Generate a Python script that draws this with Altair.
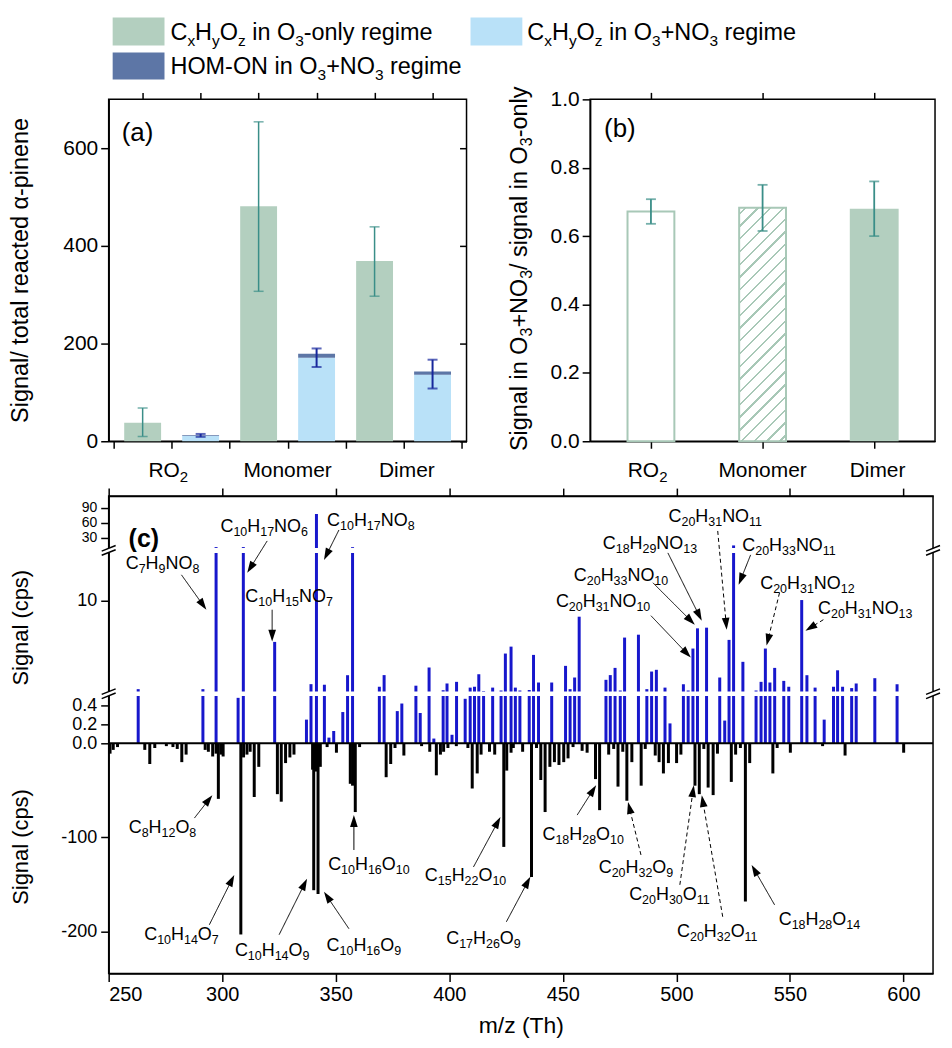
import math
import re

import altair as alt
import pandas as pd

FONT = "Liberation Sans"
GREEN = "#b3cfbf"
GREEN_EDGE = "#a8c8b7"
LBLUE = "#b9e1f8"
HOMON = "#5d76a6"
TEAL = "#3a8e88"
DBLUE = "#17279c"
BLUE = "#1717cc"

# ---------------- panel (a) ----------------
groups = ["RO2", "Monomer", "Dimer"]
o3_only = [38, 481, 369]
o3_only_lo = [10, 307, 297]
o3_only_hi = [68, 654, 439]
no3_cxhyoz = [11, 171, 136]
no3_homon = [1.5, 8, 7]
no3_lo = [9, 152, 108]
no3_hi = [15, 190, 167]

# ---------------- panel (b) ----------------
ratio = [0.672, 0.683, 0.680]
ratio_lo = [0.636, 0.615, 0.600]
ratio_hi = [0.708, 0.750, 0.760]

# ---------------- panel (c) ----------------
hom_on_mz = [263.0, 291.5, 297.3, 307.0, 309.3, 323.1, 337.1, 339.1, 341.5, 345.0,
             347.0, 349.1, 353.1, 355.2, 357.4, 369.2, 371.3, 377.1, 379.1, 385.3,
             387.2, 391.1, 393.2, 397.3, 399.0, 401.2, 403.2, 407.0, 409.2, 411.1,
             413.0, 415.1, 419.1, 422.8, 424.7, 427.2, 429.1, 431.1, 435.2, 437.1,
             439.3, 445.1, 451.2, 453.2, 455.2, 457.2, 469.0, 470.9, 473.0, 475.3,
             477.2, 483.3, 487.0, 489.1, 491.2, 495.0, 497.2, 503.1, 505.2, 507.3,
             509.3, 513.3, 519.1, 521.3, 523.2, 525.2, 529.3, 535.1, 537.3, 539.2,
             541.2, 543.3, 547.3, 549.5, 555.2, 557.5, 561.1, 565.1, 569.2, 571.0,
             573.2, 577.2, 579.2, 587.4, 597.2]
hom_on_signal = [0.84, 0.84, 19, 0.48, 19, 5.75, 0.25, 1.36, 77.5, 1.3,
                 0.06, 0.13, 0.33, 2.29, 18.9, 1.09, 2.3, 0.34, 0.42, 1.2,
                 0.32, 3.09, 0.05, 0.73, 1.43, 0.09, 1.6, 0.47, 1.0, 1.09,
                 2.39, 0.65, 1.0, 0.7, 4.54, 5.26, 1.0, 0.7, 0.75, 4.4,
                 1.53, 1.53, 3.26, 0.84, 2.05, 8.37, 1.81, 2.3, 3.05, 0.7,
                 6.2, 6.5, 0.84, 2.67, 2.85, 1.0, 0.21, 1.35, 0.7, 5.06,
                 7.16, 7.23, 2.05, 0.24, 5.96, 21, 3.68, 0.7, 1.6, 5.06,
                 1.53, 3.05, 1.7, 1.09, 10.1, 2.29, 1.0, 0.25, 1.09, 2.8,
                 1.09, 0.95, 1.43, 1.98, 1.35]
cxhyoz_mz = [250.6, 252.0, 253.9, 265.9, 268.1, 270.3, 275.4, 278.3, 280.2, 282.2,
             284.1, 292.5, 293.9, 295.8, 297.3, 298.3, 299.5, 300.4, 308.2, 309.4,
             310.9, 312.3, 314.1, 316.1, 324.3, 326.0, 327.9, 329.8, 331.6, 339.8,
             340.3, 341.2, 342.2, 343.2, 346.2, 350.3, 356.4, 357.4, 358.6, 360.5,
             372.2, 374.2, 376.1, 380.0, 387.8, 391.4, 394.3, 396.1, 397.5, 399.4,
             403.1, 408.2, 410.1, 412.3, 414.0, 417.7, 420.0, 424.0, 425.3, 427.2,
             428.2, 432.3, 436.2, 438.4, 440.3, 442.2, 444.3, 446.3, 448.3, 450.4,
             452.3, 454.5, 458.5, 460.7, 464.4, 466.2, 470.2, 472.4, 474.3, 476.4,
             478.2, 480.4, 484.5, 486.3, 490.7, 492.4, 494.3, 496.5, 500.1, 502.0,
             508.2, 510.1, 512.1, 514.0, 516.2, 518.1, 524.2, 526.1, 528.2, 530.4,
             532.3, 542.5, 544.4, 550.2, 564.4, 574.3, 600.1]
cxhyoz_signal = [-11, -7, -4, -7, -22, -5, -3, -4, -6, -20,
                 -12, -7, -9, -14, -11, -59, -12, -14, -203, -15,
                 -12, -9, -57, -25, -54, -62, -21, -15, -12, -28,
                 -156, -30, -160, -25, -4, -10, -43, -45, -73, -4,
                 -36, -22, -5, -13, -3, -9, -34, -12, -9, -5,
                 -3, -5, -48, -32, -12, -9, -12, -110, -29, -10,
                 -5, -9, -142, -5, -39, -73, -25, -20, -23, -20,
                 -16, -4, -8, -10, -38, -71, -12, -6, -46, -9,
                 -61, -20, -45, -6, -13, -20, -32, -21, -21, -12,
                 -45, -54, -6, -47, -55, -11, -41, -12, -5, -168,
                 -21, -32, -5, -10, -3, -13, -10]
assert len(hom_on_mz) == len(hom_on_signal)
assert len(cxhyoz_mz) == len(cxhyoz_signal)

# label, label centre (page px), arrow start, arrow end, style
annotations = [
    ("C7H9NO8", 163, 560, 182, 572, 207, 607, "solid"),
    ("C10H17NO6", 265, 523, 268, 538, 248, 570, "solid"),
    ("C10H15NO7", 290, 593, 273, 607, 273, 639, "solid"),
    ("C10H17NO8", 372, 517, 340, 527, 325, 557, "solid"),
    ("C20H31NO11", 718, 513, 720, 528, 729, 627, "dash"),
    ("C18H29NO13", 652, 540, 670, 550, 704, 618, "solid"),
    ("C20H33NO11", 792, 542, 753, 552, 741, 582, "solid"),
    ("C20H33NO10", 623, 572, 655, 580, 697, 622, "solid"),
    ("C20H31NO12", 810, 580, 782, 590, 769, 643, "dash"),
    ("C20H31NO10", 605, 598, 653, 613, 693, 655, "solid"),
    ("C20H31NO13", 868, 605, 826, 617, 808, 628, "dash"),
    ("C8H12O8", 163, 825, 195, 816, 213, 793, "solid"),
    ("C10H14O7", 182, 932, 210, 923, 235, 873, "solid"),
    ("C10H14O9", 273, 948, 280, 933, 308, 877, "solid"),
    ("C10H16O9", 365, 943, 350, 927, 325, 890, "solid"),
    ("C10H16O10", 370, 862, 355, 848, 355, 813, "solid"),
    ("C15H22O10", 467, 873, 475, 865, 502, 815, "solid"),
    ("C17H26O9", 485, 936, 508, 920, 532, 875, "solid"),
    ("C18H28O10", 585, 832, 579, 813, 598, 783, "solid"),
    ("C20H32O9", 638, 865, 643, 853, 630, 800, "dash"),
    ("C20H30O11", 672, 892, 682, 883, 696, 783, "dash"),
    ("C20H32O11", 720, 929, 725, 915, 704, 793, "dash"),
    ("C18H28O14", 822, 917, 777, 903, 754, 863, "solid"),
]

# ---------------- rich text helper (Arial / Liberation Sans metrics) ----------------
AW = {" ": 278, "(": 333, ")": 333, "+": 584, "-": 333, "/": 278, "\u03b1": 578,
      "C": 722, "D": 722, "H": 722, "M": 833, "N": 722, "O": 778, "R": 722, "S": 667,
      "T": 611, "a": 556, "b": 556, "c": 500, "d": 556, "e": 556, "g": 556, "h": 556,
      "i": 222, "l": 222, "m": 833, "n": 556, "o": 556, "p": 556, "r": 333, "s": 500,
      "t": 278, "x": 500, "y": 500, "z": 500}


def tw(s, size):
    return sum(AW.get(ch, 556) for ch in s) * size / 1000.0


def rich(parts, x, y, size, sub=None, dy=0.0, center=False, angle=0):
    sub = sub or size
    widths = [tw(t, sub if s else size) for t, s in parts]
    total = sum(widths)
    off = -total / 2 if center else 0.0
    out = []
    for (t, s), w in zip(parts, widths):
        fs = sub if s else size
        lead = len(t) - len(t.lstrip(" "))
        txt = t.strip(" ")
        o = off + tw(" " * lead, fs)
        if txt:
            if angle == 0:
                out.append({"x": x + o, "y": y + (dy if s else 0), "text": txt, "size": fs, "angle": 0})
            else:
                out.append({"x": x + (dy if s else 0), "y": y - o, "text": txt, "size": fs, "angle": 270})
        off += w
    return out


def chem(label):
    return [(m, m.isdigit()) for m in re.findall(r"\d+|\D+", label)]


def text_layer(rows):
    return alt.Chart(pd.DataFrame(rows)).mark_text(
        align="left", baseline="alphabetic", font=FONT, color="black"
    ).encode(
        x=alt.X("x:Q", scale=None, axis=None),
        y=alt.Y("y:Q", scale=None, axis=None),
        text="text:N",
        size=alt.Size("size:Q", scale=None, legend=None),
        angle=alt.Angle("angle:Q", scale=None),
    )


def spacer(y):
    return alt.Chart(pd.DataFrame({"x": [0], "y": [y]})).mark_point(opacity=0, size=1).encode(
        x=alt.X("x:Q", scale=None, axis=None), y=alt.Y("y:Q", scale=None, axis=None)
    )


RO2 = [("RO", False), ("2", True)]
SUBF = lambda t: (t, True)
NORM = lambda t: (t, False)

# common plot origin (page px) for all panels: x = 109
# ---------------- legend ----------------
LW, LH = 820, 74
leg_bg = alt.Chart(pd.DataFrame({"x": [0], "x2": [LW], "y": [0], "y2": [LH]})).mark_rect(color="white").encode(
    x=alt.X("x:Q", scale=None, axis=None), x2="x2:Q",
    y=alt.Y("y:Q", scale=None, axis=None), y2="y2:Q")
leg_boxes = alt.Chart(pd.DataFrame({
    "x": [4, 363, 4], "x2": [56, 415, 56], "y": [7, 7, 42], "y2": [35, 35, 69],
    "c": [GREEN, LBLUE, HOMON]})).mark_rect().encode(
    x=alt.X("x:Q", scale=None, axis=None), x2="x2:Q",
    y=alt.Y("y:Q", scale=None, axis=None), y2="y2:Q",
    color=alt.Color("c:N", scale=None, legend=None))
cxhyoz_parts = [NORM("C"), SUBF("x"), NORM("H"), SUBF("y"), NORM("O"), SUBF("z")]
leg_rows = []
leg_rows += rich(cxhyoz_parts + [NORM(" in O"), SUBF("3"), NORM("-only regime")], 62, 29.5, 23.5, 15.5, 6)
leg_rows += rich(cxhyoz_parts + [NORM(" in O"), SUBF("3"), NORM("+NO"), SUBF("3"), NORM(" regime")],
                 420, 29.5, 23.5, 15.5, 6)
leg_rows += rich([NORM("HOM-ON in O"), SUBF("3"), NORM("+NO"), SUBF("3"), NORM(" regime")], 62, 64, 23.5, 15.5, 6)
legend = alt.layer(leg_bg, leg_boxes, text_layer(leg_rows)).properties(
    width=LW, height=LH, view=alt.ViewBackground(stroke="transparent"))

# ---------------- panel (a) ----------------
AW_, AH_ = 359, 343
xa = alt.Scale(domain=[0, 6], nice=False, zero=False)
ya = alt.Scale(domain=[0, 700], nice=False, zero=False)
series_names = ["CxHyOz in O3-only regime", "CxHyOz in O3+NO3 regime", "HOM-ON in O3+NO3 regime"]
bar_rows, eg_rows, eb_rows = [], [], []
for i in range(3):
    bar_rows.append({"pos": 2 * i + 0.5, "base": 0, "top": o3_only[i], "series": series_names[0]})
    bar_rows.append({"pos": 2 * i + 1.5, "base": 0, "top": no3_cxhyoz[i], "series": series_names[1]})
    bar_rows.append({"pos": 2 * i + 1.5, "base": no3_cxhyoz[i], "top": no3_cxhyoz[i] + no3_homon[i],
                     "series": series_names[2]})
    eg_rows.append({"pos": 2 * i + 0.5, "lo": o3_only_lo[i], "hi": o3_only_hi[i]})
    eb_rows.append({"pos": 2 * i + 1.5, "lo": no3_lo[i], "hi": no3_hi[i]})

bars_a = alt.Chart(pd.DataFrame(bar_rows)).mark_bar(size=37).encode(
    x=alt.X("pos:Q", scale=xa, axis=alt.Axis(values=[0, 1, 2, 3, 4, 5, 6], labels=False, tickSize=7, title=None)),
    y=alt.Y("top:Q", scale=ya, axis=alt.Axis(values=[0, 200, 400, 600], title=None, tickSize=8,
                                              labelFontSize=21, labelPadding=3)),
    y2="base:Q",
    color=alt.Color("series:N", scale=alt.Scale(domain=series_names, range=[GREEN, LBLUE, HOMON]), legend=None),
)
err_a_green = alt.Chart(pd.DataFrame(eg_rows)).mark_errorbar(ticks=True, size=10, thickness=1.5, color=TEAL).encode(
    x=alt.X("pos:Q", scale=xa, axis=None), y=alt.Y("lo:Q", scale=ya, axis=None), y2="hi:Q")
err_a_blue = alt.Chart(pd.DataFrame(eb_rows)).mark_errorbar(ticks=True, size=10, thickness=2, color=DBLUE).encode(
    x=alt.X("pos:Q", scale=xa, axis=None), y=alt.Y("lo:Q", scale=ya, axis=None), y2="hi:Q")
axes_a = alt.Chart(pd.DataFrame({"pos": [0.5, 1.5, 2.5, 3.5, 4.5, 5.5], "v": [0] * 6})).mark_point(opacity=0).encode(
    x=alt.X("pos:Q", scale=xa, axis=alt.Axis(orient="top", values=[0.5, 1.5, 2.5, 3.5, 4.5, 5.5], labels=False,
                                             tickSize=7, domain=False, title=None)),
    y=alt.Y("v:Q", scale=ya, axis=alt.Axis(orient="right", values=[0, 200, 400, 600], labels=False, tickSize=7,
                                           offset=-7, domain=False, title=None)),
)
inner_a = alt.layer(bars_a, err_a_green, err_a_blue, axes_a).resolve_axis(x="independent", y="independent")
rows_a = []
rows_a += rich([NORM("Signal/ total reacted \u03b1-pinene")], -81, AH_ / 2, 23.5, center=True, angle=270)
for pos, parts in zip([1, 3, 5], [RO2, [NORM("Monomer")], [NORM("Dimer")]]):
    rows_a += rich(parts, pos / 6 * AW_, 379, 21, 15, 5, center=True)
rows_a += rich([NORM("(a)")], 13, 42, 26)
panel_a = alt.layer(inner_a, text_layer(rows_a), spacer(-10)).resolve_scale(
    x="independent", y="independent").properties(width=AW_, height=AH_)

# ---------------- panel (b) ----------------
BW_, BH_ = 346, 343
xb = alt.Scale(domain=[0, 3], nice=False, zero=False)
yb = alt.Scale(domain=[0, 1], nice=False, zero=False)
bpos = [0.5, 1.5, 2.5]


def one_bar(i):
    return pd.DataFrame({"pos": [bpos[i]], "v": [ratio[i]], "base": [0]})


bar_w, bar_h = 47, ratio[1] * BH_
s = (bar_w + bar_h) / (bar_w ** 2 + bar_h ** 2)
n_str, lw = 22, 1.7 / ((bar_w + bar_h) / math.sqrt(2))
stops = [{"offset": 0, "color": "white"}]
for k in range(n_str):
    c0 = (k + 0.5) / n_str - lw / 2
    c1 = (k + 0.5) / n_str + lw / 2
    stops += [{"offset": c0, "color": "white"}, {"offset": c0, "color": GREEN_EDGE},
              {"offset": c1, "color": GREEN_EDGE}, {"offset": c1, "color": "white"}]
stops.append({"offset": 1, "color": "white"})
hatch = {"gradient": "linear", "x1": 0, "y1": 0, "x2": s * bar_w, "y2": s * bar_h, "stops": stops}

bar_b0 = alt.Chart(one_bar(0)).mark_bar(size=47, fill="white", stroke=GREEN_EDGE, strokeWidth=2).encode(
    x=alt.X("pos:Q", scale=xb, axis=alt.Axis(values=bpos, labels=False, tickSize=7, title=None)),
    y=alt.Y("v:Q", scale=yb, axis=alt.Axis(values=[0, 0.2, 0.4, 0.6, 0.8, 1.0], format=".1f", title=None,
                                            tickSize=8, labelFontSize=21, labelPadding=3)),
    y2="base:Q")
bar_b1 = alt.Chart(one_bar(1)).mark_bar(size=47, fill=hatch, stroke=GREEN_EDGE, strokeWidth=2).encode(
    x=alt.X("pos:Q", scale=xb, axis=None), y=alt.Y("v:Q", scale=yb, axis=None), y2="base:Q")
bar_b2 = alt.Chart(one_bar(2)).mark_bar(size=49, color=GREEN).encode(
    x=alt.X("pos:Q", scale=xb, axis=None), y=alt.Y("v:Q", scale=yb, axis=None), y2="base:Q")
err_b = alt.Chart(pd.DataFrame({"pos": bpos, "lo": ratio_lo, "hi": ratio_hi})).mark_errorbar(
    ticks=True, size=10, thickness=1.8, color=TEAL).encode(
    x=alt.X("pos:Q", scale=xb, axis=None), y=alt.Y("lo:Q", scale=yb, axis=None), y2="hi:Q")
axes_b = alt.Chart(pd.DataFrame({"pos": bpos, "v": [0] * 3})).mark_point(opacity=0).encode(
    x=alt.X("pos:Q", scale=xb, axis=alt.Axis(orient="top", values=bpos, labels=False, tickSize=7,
                                             domain=False, title=None)),
    y=alt.Y("v:Q", scale=yb, axis=None))
inner_b = alt.layer(bar_b0, bar_b1, bar_b2, err_b, axes_b).resolve_axis(x="independent", y="independent")
rows_b = []
rows_b += rich([NORM("Signal in O"), SUBF("3"), NORM("+NO"), SUBF("3"), NORM("/ signal in O"), SUBF("3"),
                NORM("-only")], -63, 170, 23.5, 16, 5, center=True, angle=270)
for pos, parts in zip(bpos, [RO2, [NORM("Monomer")], [NORM("Dimer")]]):
    rows_b += rich(parts, pos / 3 * BW_, 379, 21, 15, 5, center=True)
rows_b += rich([NORM("(b)")], 14, 38, 26)
panel_b = alt.layer(inner_b, text_layer(rows_b), spacer(-10)).resolve_scale(
    x="independent", y="independent").properties(width=BW_, height=BH_)

# ---------------- panel (c) ----------------
CW_, CH_ = 827, 479
OX, OY = 109, 493
xc = alt.Scale(domain=[250, 250 + CW_ / 2.278], nice=False, zero=False)
yc = alt.Scale(domain=[-244.5, 0, 0.5, 0.6, 15, 18, 30, 113],
               range=[CH_, 248, 200.5, 196, 57, 52, 42, 0], nice=False, zero=False)
ytick_vals = [-200, -100, 0, 0.2, 0.4, 10, 30, 60, 90]
lab_expr = ("datum.value < 0 ? '-' + format(-datum.value, 'd') : "
            "(datum.value < 1 ? format(datum.value, '.1f') : format(datum.value, 'd'))")

blue_df = pd.DataFrame({"mz": hom_on_mz, "s": hom_on_signal, "base": 0})
black_df = pd.DataFrame({"mz": cxhyoz_mz, "s": cxhyoz_signal, "base": 0})
blue_c = alt.Chart(blue_df).mark_rule(color=BLUE, strokeWidth=3, strokeCap="butt").encode(
    x=alt.X("mz:Q", scale=xc, axis=alt.Axis(values=list(range(250, 601, 50)), title="m/z (Th)", tickSize=8,
                                             labelFontSize=20, labelPadding=3, titlePadding=10,
                                             titleFontSize=23)),
    y=alt.Y("s:Q", scale=yc, axis=alt.Axis(values=ytick_vals, labelExpr=lab_expr, title=None, tickSize=8,
                                            labelFontSize={"condition": {"test": "datum.value >= 20",
                                                                         "value": 14}, "value": 18},
                                            labelPadding=4, labelOverlap=False)),
    y2="base:Q")
black_c = alt.Chart(black_df).mark_rule(color="black", strokeWidth=3, strokeCap="butt").encode(
    x=alt.X("mz:Q", scale=xc, axis=alt.Axis(orient="top", values=list(range(250, 601, 50)), labels=False,
                                             tickSize=8, title=None)),
    y=alt.Y("s:Q", scale=yc, axis=None),
    y2="base:Q")
zero_c = alt.Chart(pd.DataFrame({"v": [0]})).mark_rule(color="black", strokeWidth=2).encode(
    y=alt.Y("v:Q", scale=yc, axis=None))
bands_c = alt.Chart(pd.DataFrame({"lo": [0.5, 15], "hi": [0.6, 18]})).mark_rect(color="white").encode(
    x=alt.value(-2), x2=alt.value(CW_ + 2),
    y=alt.Y("lo:Q", scale=yc, axis=None), y2="hi:Q")
BREAK = "M-1,0.1L1,-0.7M-1,0.7L1,-0.1"
breaks_c = alt.Chart(pd.DataFrame({"bx": [250, 250, 250 + CW_ / 2.278, 250 + CW_ / 2.278],
                                   "by": [0.55, 16.5, 0.55, 16.5]})).mark_point(
    shape=BREAK, filled=False, color="black", strokeWidth=1.5, size=196, opacity=1).encode(
    x=alt.X("bx:Q", scale=xc, axis=None), y=alt.Y("by:Q", scale=yc, axis=None))
inner_c = alt.layer(blue_c, black_c, zero_c, bands_c, breaks_c).resolve_axis(x="independent", y="independent")

rows_c, arrow_rows, head_rows = [], [], []
R = 7.0
for lab, cx, cy, x1, y1, x2, y2, st in annotations:
    rows_c += rich(chem(lab), cx - OX, cy - OY + 6, 18, 12.5, 4.5, center=True)
    dx, dy = x2 - x1, y2 - y1
    L = math.hypot(dx, dy)
    ux, uy = dx / L, dy / L
    arrow_rows.append({"x1": x1 - OX, "y1": y1 - OY, "x2": x2 - OX - 1.4 * R * ux,
                       "y2": y2 - OY - 1.4 * R * uy, "style": st})
    head_rows.append({"x": x2 - OX - R * ux, "y": y2 - OY - R * uy,
                      "ang": math.degrees(math.atan2(ux, -uy)) % 360})
rows_c += rich([NORM("Signal (cps)")], -81, 132, 22, center=True, angle=270)
rows_c += rich([NORM("Signal (cps)")], -81, 352, 22, center=True, angle=270)

arrows_c = alt.Chart(pd.DataFrame(arrow_rows)).mark_rule(color="black", strokeWidth=1).encode(
    x=alt.X("x1:Q", scale=None, axis=None), y=alt.Y("y1:Q", scale=None, axis=None),
    x2="x2:Q", y2="y2:Q",
    strokeDash=alt.StrokeDash("style:N", scale=alt.Scale(domain=["solid", "dash"], range=[[1, 0], [4, 3]]),
                              legend=None))
HEAD = "M0,-1L0.55,0.7L-0.55,0.7Z"
heads_c = alt.Chart(pd.DataFrame(head_rows)).mark_point(
    shape=HEAD, filled=True, color="black", size=4 * R * R, opacity=1, strokeWidth=0).encode(
    x=alt.X("x:Q", scale=None, axis=None), y=alt.Y("y:Q", scale=None, axis=None),
    angle=alt.Angle("ang:Q", scale=None))
label_c = alt.Chart(pd.DataFrame({"x": [20], "y": [51], "t": ["(c)"]})).mark_text(
    align="left", baseline="alphabetic", font=FONT, fontSize=25, fontWeight="bold", color="black").encode(
    x=alt.X("x:Q", scale=None, axis=None), y=alt.Y("y:Q", scale=None, axis=None), text="t:N")
panel_c = alt.layer(inner_c, text_layer(rows_c), arrows_c, heads_c, label_c).resolve_scale(
    x="independent", y="independent").properties(width=CW_, height=CH_)

# ---------------- assemble ----------------
chart = alt.vconcat(
    legend,
    alt.hconcat(panel_a, panel_b, spacing=39),
    panel_c,
    spacing=0,
).properties(padding=0)

chart = chart.configure(font=FONT).configure_axis(
    labelFont=FONT, titleFont=FONT, labelColor="black", titleColor="black",
    tickColor="black", domainColor="black", domainWidth=1.5, tickWidth=1.5,
    grid=False, labelFontSize=20, titleFontSize=23, titleFontWeight="normal",
).configure_view(stroke="black", strokeWidth=1.5)

chart.save("out.html", embed_options={"renderer": "svg", "actions": False})
